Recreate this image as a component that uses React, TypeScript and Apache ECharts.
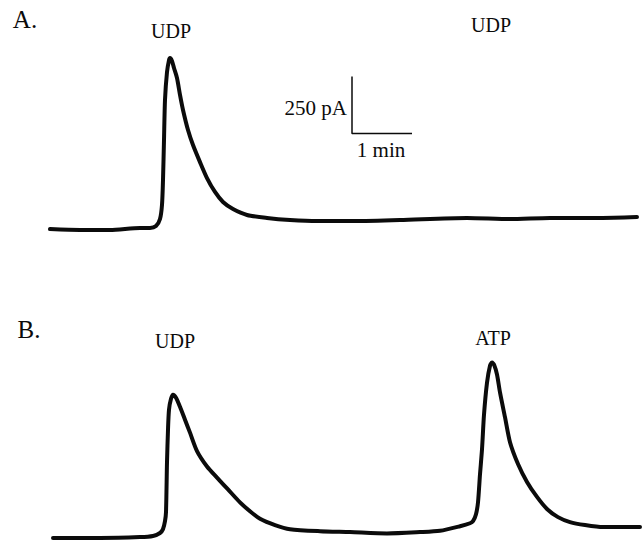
import React, { useEffect, useRef } from "react";
import * as echarts from "echarts";

// Trace A: time (s), current (pA)
const traceATime = [10, 40, 70, 100, 110, 116, 120, 122, 123, 124, 125, 127, 129, 130, 132, 134, 137, 140, 143, 148, 153, 160, 167, 175, 183, 193, 207, 227, 250, 277, 310, 360, 427, 470, 510, 560, 597];
const traceACurrent = [-2, -6, -6, 3, 3, 11, 42, 104, 213, 389, 565, 687, 740, 749, 736, 705, 661, 587, 521, 433, 367, 292, 222, 161, 117, 86, 60, 47, 38, 33, 33, 38, 47, 42, 47, 47, 51];

// Trace B: time (s), current (pA)
const traceBTime = [13, 60, 100, 113, 120, 123, 125, 126, 127, 128, 129, 131, 133, 136, 140, 145, 150, 157, 167, 177, 188, 200, 210, 220, 235, 250, 280, 310, 347, 380, 400, 420, 430, 433, 436, 438, 440, 442, 444, 447, 450, 452, 454, 457, 460, 465, 470, 478, 487, 497, 507, 518, 530, 545, 563, 600];
const traceBCurrent = [2, 2, 6, 11, 24, 41, 76, 116, 335, 479, 567, 615, 633, 620, 580, 523, 466, 385, 317, 268, 216, 159, 120, 87, 59, 41, 32, 28, 22, 28, 34, 54, 67, 76, 107, 159, 282, 392, 545, 686, 761, 775, 766, 722, 643, 534, 424, 328, 249, 183, 130, 94, 72, 59, 50, 50];

// Scale bar
const scaleBarTime = 60; // s (1 min)
const scaleBarCurrent = 250; // pA
const scaleBarOriginTime = 312;
const scaleBarOriginCurrent = 418;

// Labels
const panelLabels = ["A.", "B."];
const agonistLabelsA = ["UDP", "UDP"];
const agonistLabelsB = ["UDP", "ATP"];
const scaleLabels = ["250 pA", "1 min"];

const pairs = (xs: number[], ys: number[]) => xs.map((x, i) => [x, ys[i]]);

const FONT = "'Liberation Serif', 'Times New Roman', serif";
const INK = "#0b0b0b";

export default function App() {
  const ref = useRef<HTMLDivElement>(null);
  useEffect(() => {
    if (!ref.current) return;
    const chart = echarts.init(ref.current, undefined, { renderer: "svg" });
    const traceStyle = { width: 4, color: INK, cap: "round", join: "round" };
    const txt = (text: string, x: number, y: number, size: number, align = "center") => ({
      type: "text",
      x,
      y,
      style: {
        text,
        fill: INK,
        font: `normal ${size}px ${FONT}`,
        textAlign: align,
        textVerticalAlign: "middle",
      },
    });
    chart.setOption({
      animation: false,
      backgroundColor: "#ffffff",
      grid: [
        { left: 40, width: 600, top: 35, height: 205 },
        { left: 40, width: 600, top: 350, height: 194 },
      ],
      xAxis: [
        { type: "value", gridIndex: 0, min: 0, max: 600, show: false },
        { type: "value", gridIndex: 1, min: 0, max: 600, show: false },
      ],
      yAxis: [
        { type: "value", gridIndex: 0, min: -50, max: 850, show: false },
        { type: "value", gridIndex: 1, min: -20, max: 830, show: false },
      ],
      series: [
        {
          type: "line",
          xAxisIndex: 0,
          yAxisIndex: 0,
          data: pairs(traceATime, traceACurrent),
          showSymbol: false,
          smooth: 0.25,
          clip: false,
          lineStyle: traceStyle,
        },
        {
          type: "line",
          xAxisIndex: 1,
          yAxisIndex: 1,
          data: pairs(traceBTime, traceBCurrent),
          showSymbol: false,
          smooth: 0.25,
          clip: false,
          lineStyle: traceStyle,
        },
        {
          type: "line",
          xAxisIndex: 0,
          yAxisIndex: 0,
          data: [
            [scaleBarOriginTime, scaleBarOriginCurrent + scaleBarCurrent],
            [scaleBarOriginTime, scaleBarOriginCurrent],
            [scaleBarOriginTime + scaleBarTime, scaleBarOriginCurrent],
          ],
          showSymbol: false,
          clip: false,
          lineStyle: { width: 1.5, color: INK },
        },
      ],
      graphic: [
        txt(panelLabels[0], 25, 19, 25),
        txt(panelLabels[1], 29, 329, 25),
        txt(agonistLabelsA[0], 171, 31, 20),
        txt(agonistLabelsA[1], 491, 25, 20),
        txt(agonistLabelsB[0], 175, 341, 20),
        txt(agonistLabelsB[1], 493, 338, 20),
        txt(scaleLabels[0], 347, 108, 21, "right"),
        txt(scaleLabels[1], 381, 150, 21),
      ],
    });
    return () => chart.dispose();
  }, []);
  return (
    <div
      ref={ref}
      style={{ position: "absolute", left: 0, top: 0, width: 644, height: 543, background: "#fff" }}
    />
  );
}
